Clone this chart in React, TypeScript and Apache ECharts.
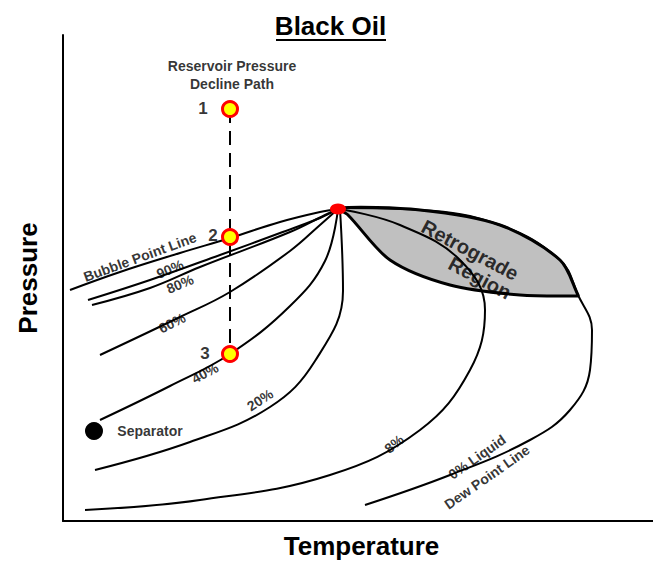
import { useEffect, useRef } from 'react'
import * as echarts from 'echarts'

// units: temperature / pressure on an arbitrary scale (x 0..597, y 0..486)
const bubbleLine = [[7, 231], [57, 249], [117, 268], [167, 283], [217, 299], [257, 309], [275, 312]]
const line90 = [[25, 221], [87, 241], [157, 266], [217, 288], [257, 303], [275, 312]]
const line80 = [[29, 216], [87, 233], [137, 254], [227, 289], [262, 306], [275, 312]]
const line60 = [[37, 166], [117, 204], [167, 229], [227, 270], [257, 296], [275, 312]]
const line40 = [[37, 101], [107, 135], [167, 167], [227, 215], [262, 260], [275, 312]]
const line20 = [[32, 51], [127, 79], [207, 114], [252, 160], [280, 230], [277, 312]]
const line8 = [[22, 11], [137, 21], [267, 46], [357, 91], [407, 151], [422, 211], [397, 261], [337, 296], [282, 311]]
const dewLine = [[302, 16], [387, 46], [467, 81], [507, 111], [527, 151], [529, 191], [515, 226], [497, 261], [437, 296], [357, 311], [275, 313]]
const retroUpper = [[275, 313], [357, 311], [437, 296], [497, 261], [515, 226]]
const retroLower = [[515, 225], [457, 226], [387, 236], [327, 261], [285, 306]]
const pathPoints = [[167, 412], [167, 284], [167, 167]]
const pathNames = ['1', '2', '3']
const criticalPoint = [275, 312]
const separator = [31, 90]

const labels: [number, number, string, number][] = [
  [77, 264, 'Bubble Point Line', 20],
  [107, 252, '90%', 22],
  [117, 237, '80%', 22],
  [109, 198, '60%', 27],
  [142, 148, '40%', 28],
  [197, 121, '20%', 33],
  [331, 77, '8%', 40],
  [414, 64, '0% Liquid', 35],
  [424, 44, 'Dew Point Line', 35],
  [87, 90, 'Separator', 0],
  [169, 446, 'Reservoir Pressure\nDecline Path', 0],
  [140, 413, '1', 0],
  [150, 286, '2', 0],
  [142, 168, '3', 0],
]
const retroLabels: [number, number, string][] = [
  [407, 271, 'Retrograde'],
  [417, 243, 'Region'],
]

export default function App() {
  const elRef = useRef<HTMLDivElement>(null)

  useEffect(() => {
    if (!elRef.current) return
    const chart = echarts.init(elRef.current, null, { renderer: 'svg' })
    const curve = (data: number[][]) => ({
      type: 'line',
      data,
      smooth: 0.4,
      showSymbol: false,
      lineStyle: { color: '#000', width: 2 },
      z: 3,
    })
    const font = 'Arial, "Liberation Sans", sans-serif'
    chart.setOption({
      animation: false,
      title: {
        text: 'Black Oil',
        left: 'center',
        top: 8,
        textStyle: { fontFamily: font, fontSize: 26, fontWeight: 'bold', color: '#000' },
      },
      graphic: [{ type: 'line', shape: { x1: 276, y1: 40, x2: 386, y2: 40 }, style: { stroke: '#000', lineWidth: 2 } }],
      grid: { left: 63, top: 35, width: 597, height: 486 },
      xAxis: {
        type: 'value', min: 0, max: 597,
        name: 'Temperature', nameLocation: 'middle', nameGap: 12,
        nameTextStyle: { fontFamily: font, fontSize: 26, fontWeight: 'bold', color: '#000' },
        axisLine: { onZero: false, lineStyle: { color: '#000', width: 2 } },
        axisTick: { show: false }, axisLabel: { show: false }, splitLine: { show: false },
      },
      yAxis: {
        type: 'value', min: 0, max: 486,
        name: 'Pressure', nameLocation: 'middle', nameGap: 22,
        nameTextStyle: { fontFamily: font, fontSize: 26, fontWeight: 'bold', color: '#000' },
        axisLine: { show: true, onZero: false, lineStyle: { color: '#000', width: 2 } },
        axisTick: { show: false }, axisLabel: { show: false }, splitLine: { show: false },
      },
      series: [
        {
          type: 'custom',
          data: [0],
          z: 1,
          renderItem: (_p: any, api: any) => ({
            type: 'polygon',
            shape: { points: [...retroUpper, ...retroLower].map((d) => api.coord(d)), smooth: 0.3 },
            style: { fill: '#c0c0c0', stroke: '#000', lineWidth: 3 },
          }),
        },
        curve(bubbleLine), curve(line90), curve(line80), curve(line60),
        curve(line40), curve(line20), curve(line8), curve(dewLine),
        {
          type: 'line',
          data: pathPoints,
          showSymbol: false,
          lineStyle: { color: '#000', width: 2, type: [14, 8] },
          z: 2,
        },
        {
          type: 'scatter',
          data: pathPoints.map((p, i) => ({ value: p, name: pathNames[i] })),
          symbolSize: 15,
          itemStyle: { color: '#ffff00', borderColor: '#ff0000', borderWidth: 3, opacity: 1 },
          z: 5,
        },
        {
          type: 'scatter',
          data: [criticalPoint],
          symbol: 'circle',
          symbolSize: [16, 11],
          itemStyle: { color: '#ff0000', opacity: 1 },
          z: 5,
        },
        {
          type: 'scatter',
          data: [separator],
          symbolSize: 18,
          itemStyle: { color: '#000', opacity: 1 },
          z: 5,
        },
        ...labels.map(([x, y, t, r]) => ({
          type: 'scatter',
          data: [[x, y]],
          symbolSize: 0,
          z: 6,
          label: {
            show: true, position: 'inside', formatter: t, rotate: r,
            fontFamily: font, fontWeight: 'bold', textBorderWidth: 0,
            fontSize: t.length === 1 ? 17 : 14, color: '#000', lineHeight: 18,
          },
        })),
        ...retroLabels.map(([x, y, t]) => ({
          type: 'scatter',
          data: [[x, y]],
          symbolSize: 0,
          z: 6,
          label: {
            show: true, position: 'inside', formatter: t, rotate: -28,
            fontFamily: font, fontWeight: 'bold', fontSize: 20, color: '#000', textBorderWidth: 0,
          },
        })),
      ],
    })
    return () => chart.dispose()
  }, [])

  return <div ref={elRef} style={{ width: 661, height: 578, margin: -8, background: '#fff' }} />
}
